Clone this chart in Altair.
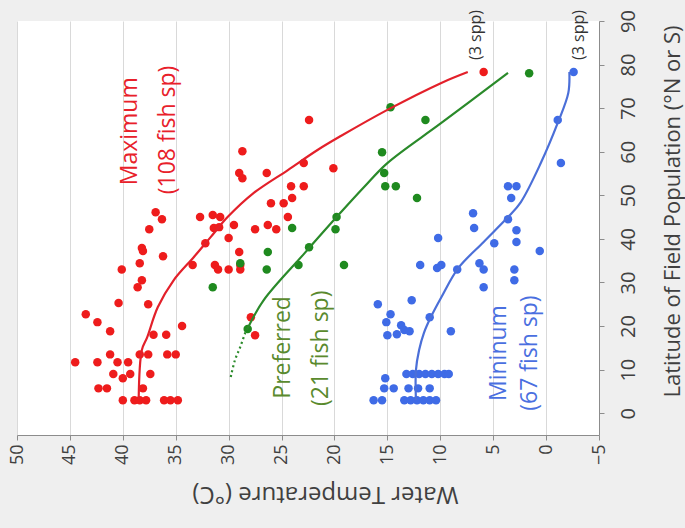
import altair as alt
import pandas as pd

# ---------------- data (T = water temperature °C, L = latitude °) ----------------
max_T = [40.0, 38.9, 38.4, 37.8, 36.1, 35.5, 34.8,
         42.3, 41.5, 38.1,
         40.9, 40.0, 39.3, 37.4,
         44.5, 42.4, 40.5, 39.5,
         41.2, 38.4, 37.6, 35.8, 35.0,
         37.1, 35.9, 41.2, 34.4, 43.5, 42.4, 40.4, 37.6, 38.2, 38.6, 40.1, 38.4,
         36.2, 38.2, 38.1, 37.5, 36.9, 36.3,
         22.4, 28.7, 29.0, 28.7, 26.4, 22.9, 20.1, 24.1, 22.9, 24.0, 26.0, 24.8,
         24.4, 32.7, 31.5, 30.8, 31.4, 30.9, 29.5, 27.5, 26.3, 25.5, 30.0, 32.2,
         29.0, 33.4, 31.3, 31.0, 30.0, 28.9, 28.9, 27.9, 27.5, 5.9]
max_L = [3, 3, 3, 3, 3, 3, 3,
         5.7, 5.7, 5.7,
         9, 8, 9, 9,
         11.7, 11.7, 11.7, 11.7,
         13.5, 13.5, 13.5, 13.5, 13.5,
         18, 18, 18.8, 20, 22.7, 20.9, 25.3, 25, 30.5, 28.9, 33, 34.4,
         36, 37.9, 37.2, 42.2, 46.1, 44.5,
         67.3, 60.1, 55.1, 53.9, 55.1, 57.4, 56.2, 52.1, 52.1, 49.4, 48.2, 48.2,
         45, 45, 45.5, 45, 42.5, 42.7, 43.2, 42.2, 43.2, 42.2, 40.2, 39,
         37, 34, 34, 33, 33, 33, 34, 22, 17.9, 78.3]

pref_T = [14.7, 11.4, 15.5, 15.3, 15.2, 14.2, 12.2, 19.8, 19.9, 19.1, 24.0,
          26.3, 28.9, 26.4, 22.4, 23.4, 31.5, 28.2, 1.6]
pref_L = [70.2, 67.3, 59.9, 55.1, 52.1, 52.1, 49.4, 45, 42.2, 34, 42.5,
          37, 34.4, 33, 38.1, 34, 28.9, 19.3, 78]

min_T = [3.6, 2.8, 3.3, 6.9, 6.8, 3.6, 2.8, 2.8, 4.9, 10.2, 11.9, 10.3, 9.9, 8.4,
         6.3, 5.9, 3.0, 3.0, 5.9, 12.7, 15.9, 14.7, 15.1, 13.7, 13.4, 12.9, 14.1,
         15.0, 11.0, 9.0,
         13.2, 12.6, 12.0, 11.4, 10.8, 10.2, 9.6, 9.2,
         15.2,
         15.3, 14.4, 13.0, 12.1, 11.0,
         16.3, 15.5, 13.4, 12.8, 12.2, 11.6, 11.0, 10.4,
         -2.6, -1.1, -1.4, 0.6]
min_L = [52.1, 52.1, 49.4, 45.9, 42.5, 44.5, 42, 39.3, 39, 40.2, 34, 33.3, 34, 33,
         34.4, 33, 33, 30.5, 28.9, 25.9, 25, 22.7, 20.9, 20.2, 19.1, 18.8, 18.1,
         17.9, 22, 18.8,
         9, 9, 9, 9, 9, 9, 9, 9,
         8,
         5.7, 5.7, 5.7, 5.7, 5.7,
         3, 3, 3, 3, 3, 3, 3, 3,
         78.3, 67.3, 57.4, 37.2]

# fitted curves
max_fit_L = [3.4, 14.5, 17.4, 24.3, 30.5, 35.8, 40.4, 45, 50.5, 55.8, 60.4, 63.6, 69.6, 75.8, 78.3]
max_fit_T = [38.5, 38.2, 37.7, 36.7, 35.2, 33.3, 31.7, 30.1, 27.65, 24.4, 21.6, 19.4, 15.0, 9.9, 7.4]

pref_dot_L = [8.3, 12.2, 15.2, 18.6, 19.5]
pref_dot_T = [29.8, 29.4, 28.9, 28.4, 28.2]
pref_fit_L = [19.5, 25.9, 36.5, 45, 51.9, 57.4, 66.6, 78.1]
pref_fit_T = [28.2, 26.7, 22.9, 19.8, 17.2, 15.0, 9.9, 3.6]

min_fit_L = [3, 9.9, 14.5, 18.4, 22, 26.6, 33.3, 39.3, 45, 48.4, 57.4, 66.6, 73.5, 78.3]
min_fit_T = [12.3, 12.3, 12.0, 11.55, 10.9, 9.9, 8.3, 5.9, 3.6, 2.4, 0.5, -1.1, -2.1, -2.2]

# annotations
ann_text = ["Maximum", "(108 fish sp)", "Preferred", "(21 fish sp)",
            "Mininum", "(67 fish sp)", "(3 spp)", "(3 spp)"]
ann_T = [39.3, 35.7, 24.9, 21.3, 4.45, 1.5, 6.6, -3.1]
ann_L = [64.7, 65.0, 15.1, 14.9, 13.8, 13.8, 86.8, 86.8]
ann_color = ["#e8202a", "#e8202a", "#5a8a2e", "#5a8a2e",
             "#4a6fe0", "#4a6fe0", "#333333", "#333333"]
ann_size = [23, 23, 23, 23, 23, 23, 16, 16]

RED, GREEN, BLUE = "#ee1c1c", "#1f8a1f", "#3f6be6"

x_enc = alt.X("T:Q", scale=alt.Scale(domain=[-5, 50], reverse=True, nice=False),
              axis=alt.Axis(title="Water Temperature (°C)", values=list(range(-5, 55, 5)),
                            labelAngle=270, labelAlign="right", labelBaseline="middle",
                            labelFontSize=18, labelPadding=4, labelColor="#404040",
                            labelFont="Open Sans",
                            titleAngle=180, titleFontSize=24, titleFont="Open Sans",
                            titleFontWeight="normal", titleColor="#404040",
                            titleX=308, titleY=58, titleAlign="center", titleBaseline="middle",
                            grid=True, gridColor="#d9d9d9", domainColor="#8c8c8c",
                            tickColor="#8c8c8c", tickSize=5))
y_enc = alt.Y("L:Q", scale=alt.Scale(domain=[-5, 90], nice=False),
              axis=alt.Axis(title="Latitude of Field Population (°N or S)", orient="right",
                            values=list(range(0, 100, 10)), labelAngle=270,
                            labelAlign="center", labelBaseline="top", labelFontSize=20,
                            labelPadding=14, labelColor="#404040", labelFont="Open Sans",
                            titleAngle=270, titleFontSize=22, titleFont="Open Sans",
                            titleFontWeight="normal", titleColor="#404040",
                            titleX=73, titleY=190, titleAlign="center", titleBaseline="middle",
                            grid=False, domainColor="#8c8c8c", tickColor="#8c8c8c",
                            tickSize=5))


def pts(T, L, color):
    df = pd.DataFrame({"T": T, "L": L})
    return alt.Chart(df).mark_circle(size=72, color=color, opacity=1).encode(x=x_enc, y=y_enc)


def line(T, L, color, dash=None):
    df = pd.DataFrame({"T": T, "L": L, "o": range(len(T))})
    kw = dict(color=color, strokeWidth=2.2, interpolate="catmull-rom")
    if dash:
        kw["strokeDash"] = dash
    return alt.Chart(df).mark_line(**kw).encode(x=x_enc, y=y_enc, order="o:Q")


ann_df = pd.DataFrame({"T": ann_T, "L": ann_L, "text": ann_text,
                       "c": ann_color, "s": ann_size})
ann = alt.Chart(ann_df).mark_text(angle=270, align="center", baseline="middle",
                                  font="Open Sans").encode(
    x=x_enc, y=y_enc, text="text:N",
    color=alt.Color("c:N", scale=None),
    size=alt.Size("s:Q", scale=None))

chart = alt.layer(
    pts(max_T, max_L, RED),
    pts(pref_T, pref_L, GREEN),
    pts(min_T, min_L, BLUE),
    line(max_fit_T, max_fit_L, "#e3202a"),
    line(pref_dot_T, pref_dot_L, "#2a8a2a", dash=[2, 3]),
    line(pref_fit_T, pref_fit_L, "#2a8a2a"),
    line(min_fit_T, min_fit_L, "#4b6fd8"),
    ann,
).properties(
    width=582, height=414,
    autosize="none",
    padding={"left": 17, "top": 21, "right": 86, "bottom": 93},
    background="#efefef",
).configure_view(fill="white", strokeWidth=0)

chart.save("out.html", embed_options={"renderer": "svg", "actions": False})
